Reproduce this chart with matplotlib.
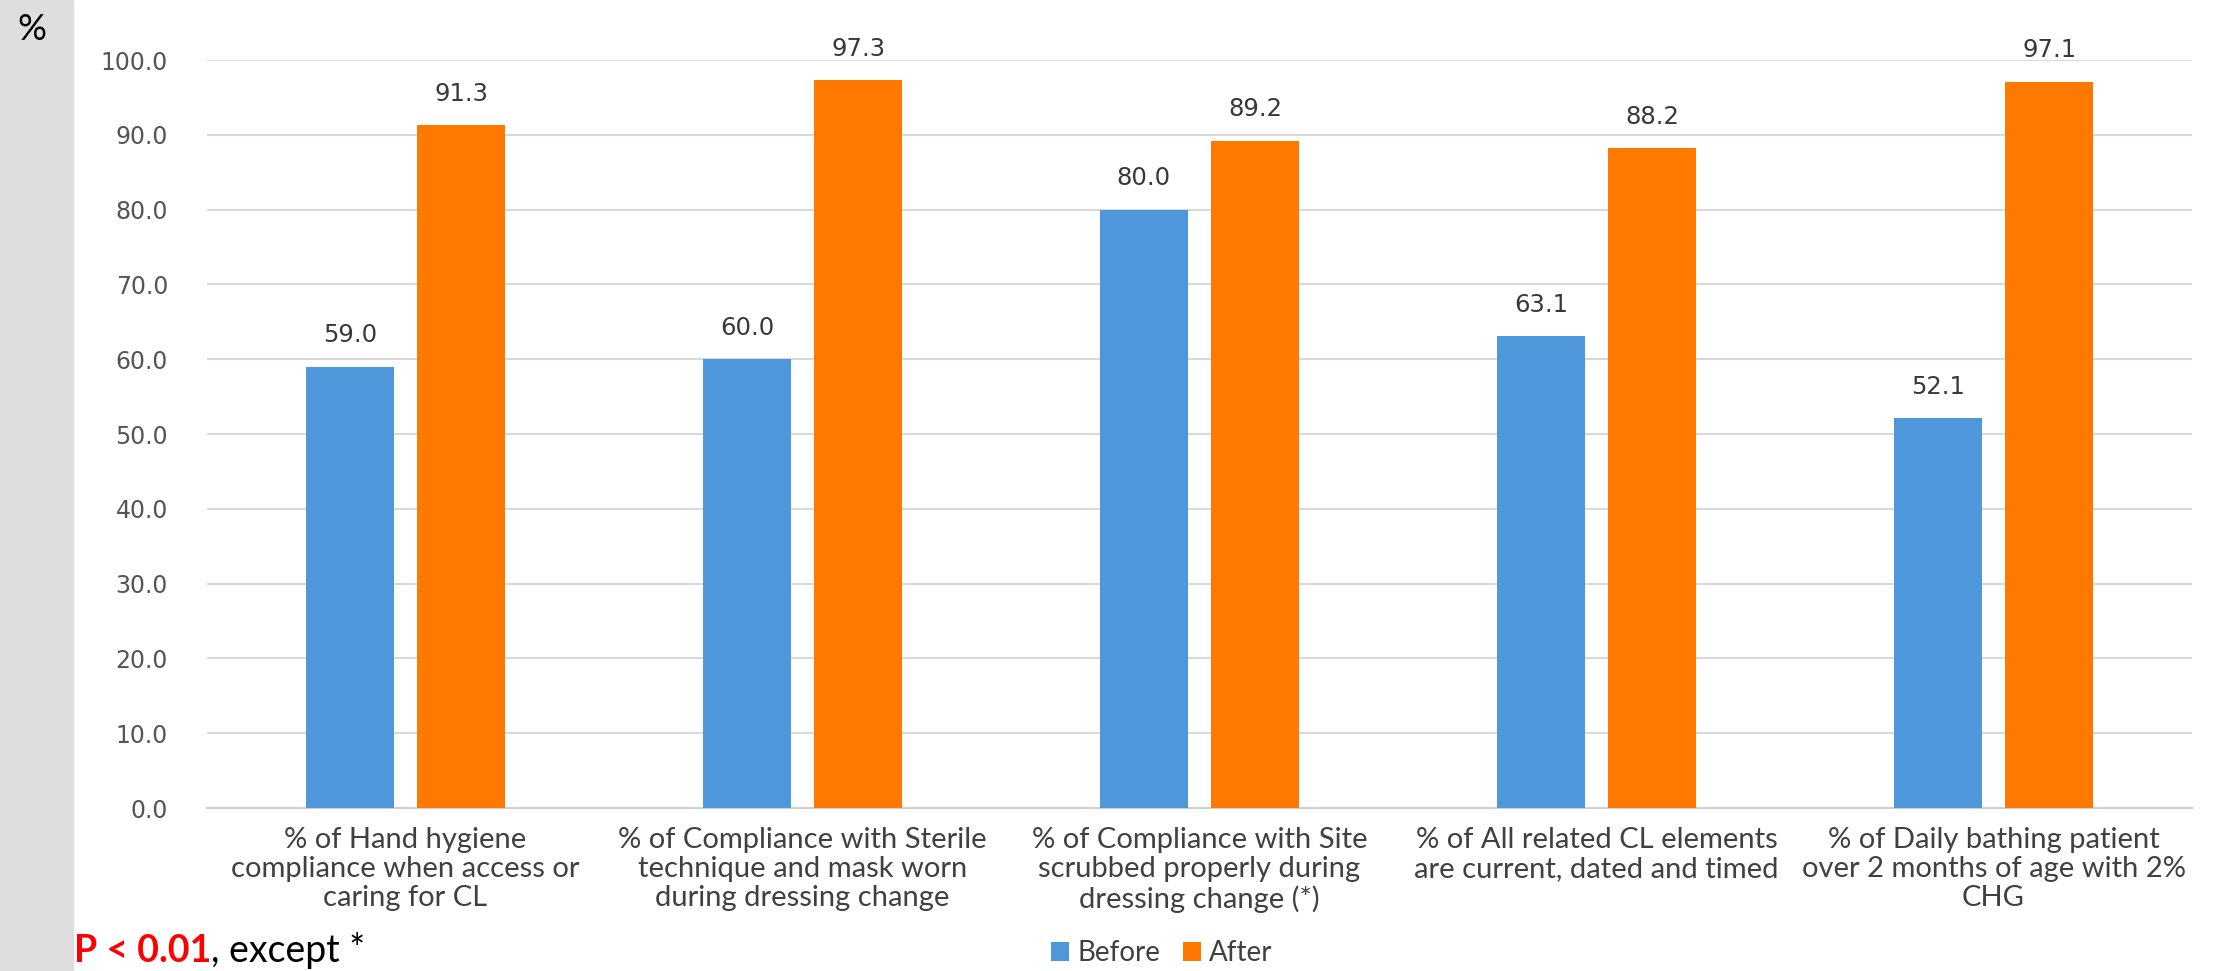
import matplotlib.pyplot as plt
import numpy as np

# Data
categories = [
    "% of Hand hygiene\ncompliance when access or\ncaring for CL",
    "% of Compliance with Sterile\ntechnique and mask worn\nduring dressing change",
    "% of Compliance with Site\nscrubbed properly during\ndressing change (*)",
    "% of All related CL elements\nare current, dated and timed",
    "% of Daily bathing patient\nover 2 months of age with 2%\nCHG",
]
before = [59.0, 60.0, 80.0, 63.1, 52.1]
after = [91.3, 97.3, 89.2, 88.2, 97.1]
y_ticks = [0, 10, 20, 30, 40, 50, 60, 70, 80, 90, 100]

blue = '#4E97DA'
orange = '#FF7800'
label_font = ['Lato', 'DejaVu Sans']

fig = plt.figure(figsize=(22.31, 9.71), dpi=100)

# grey strip on the left edge of the slide
fig.patches.append(plt.Rectangle((0, 0), 73 / 2231, 1, transform=fig.transFigure,
                                 color='#dedede', zorder=0))

ax = fig.add_axes([207 / 2231, 1 - 808 / 971, 1985 / 2231, 748 / 971])

x = np.arange(len(categories))
w = 0.222
off = 0.14
b1 = ax.bar(x - off, before, w, color=blue, label='Before', zorder=3)
b2 = ax.bar(x + off, after, w, color=orange, label='After', zorder=3)

# value labels above bars
for bars in (b1, b2):
    for rect in bars:
        h = rect.get_height()
        ax.annotate(f'{h:.1f}', xy=(rect.get_x() + rect.get_width() / 2, h),
                    xytext=(0, 14), textcoords='offset points', ha='center', va='bottom',
                    fontsize=17.5, color='#383838', clip_on=False)

ax.set_xlim(-0.5, len(categories) - 0.5)
ax.set_ylim(0, 100)
ax.set_yticks(y_ticks)
ax.set_yticklabels([f'{v:.1f}' for v in y_ticks], fontsize=17, color='#555555')
ax.set_xticks(x)
ax.set_xticklabels(categories, fontsize=21, color='#404040', family=label_font,
                   linespacing=1.13)
ax.tick_params(axis='both', length=0)
ax.tick_params(axis='y', pad=28)
ax.tick_params(axis='x', pad=14)

ax.grid(axis='y', color='#d9d9d9', linewidth=1.5, zorder=0)
for s in ['top', 'right', 'left']:
    ax.spines[s].set_visible(False)
ax.spines['bottom'].set_color('#d0d0d0')
ax.spines['bottom'].set_linewidth(1.5)

fig.legend(handles=[b1, b2], labels=['Before', 'After'], loc='center',
           bbox_to_anchor=(1162 / 2231, 1 - 953 / 971), ncol=2, frameon=False,
           prop={'family': label_font, 'size': 20}, handlelength=0.65, handleheight=0.65,
           handletextpad=0.3, columnspacing=0.8, labelcolor='#404040')

fig.text(17 / 2231, 1 - 30 / 971, '%', fontsize=26, va='center', ha='left',
         family=label_font, color='black')

# significance note
t1 = fig.text(74 / 2231, 1 - 962 / 971, 'P < 0.01', fontsize=27, fontweight='bold',
              color='#ff0000', family=label_font, va='baseline', ha='left')
fig.canvas.draw()
bb = t1.get_window_extent()
fig.text(bb.x1 / fig.bbox.width, 1 - 962 / 971, ', except *', fontsize=27, color='black',
         family=label_font, va='baseline', ha='left')

fig.savefig('out.png', dpi=100)
